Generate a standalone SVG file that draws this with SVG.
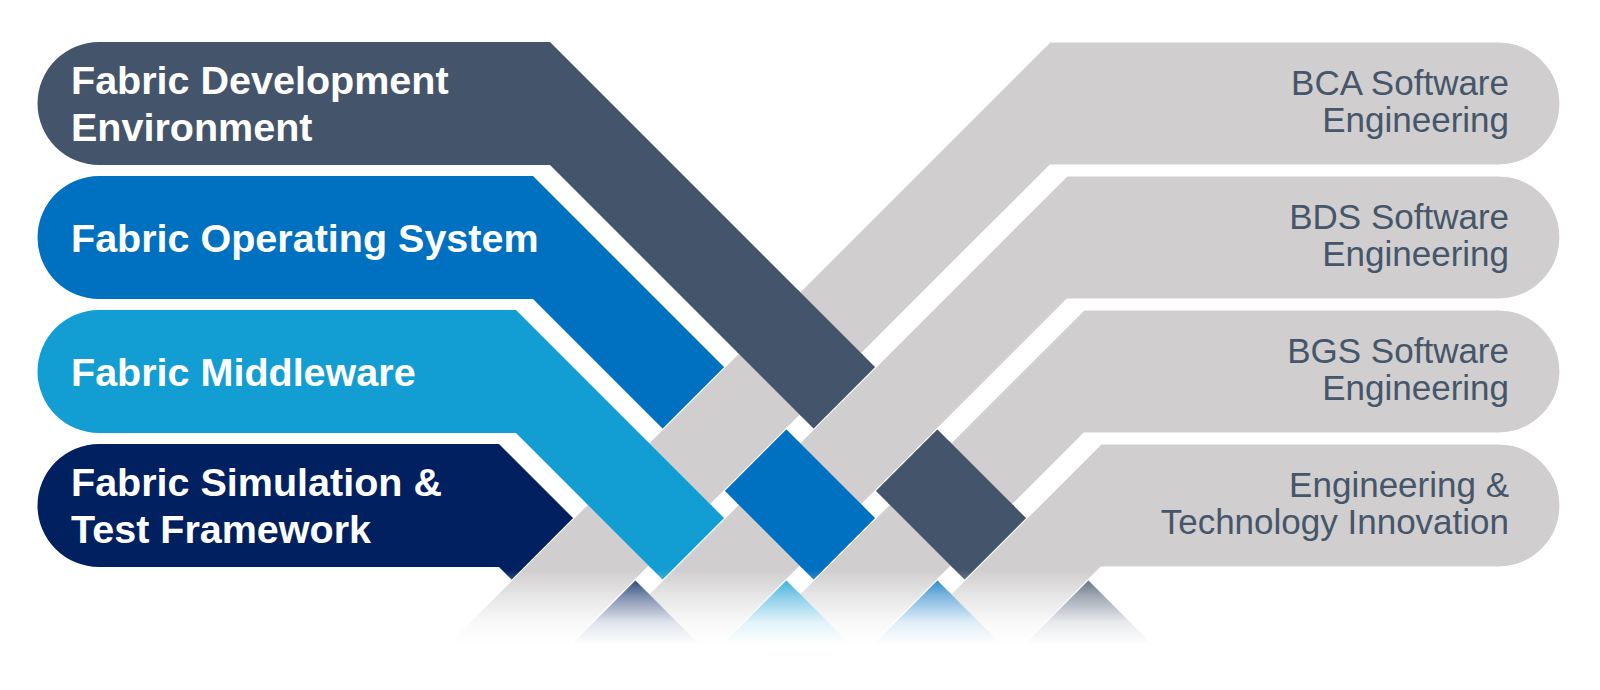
<svg xmlns="http://www.w3.org/2000/svg" width="1600" height="690" viewBox="0 0 1600 690">
<defs>
<style>
.lt{font-family:"Liberation Sans",Arial,sans-serif;font-weight:700;font-size:39.5px;fill:#fff}
.rt{font-family:"Liberation Sans",Arial,sans-serif;font-size:35px;fill:#46566A;text-anchor:end}
.r{fill:#D0CECE;stroke:#fff;stroke-width:1.2;stroke-linejoin:miter}
.c1{fill:#44546A}.c2{fill:#0070C0}.c3{fill:#139ED3}.c4{fill:#002060}
</style>
<linearGradient id="fade" x1="0" y1="570" x2="0" y2="645" gradientUnits="userSpaceOnUse">
<stop offset="0" stop-color="#fff" stop-opacity="0"/>
<stop offset="0.35" stop-color="#fff" stop-opacity="0.5"/>
<stop offset="0.7" stop-color="#fff" stop-opacity="0.88"/>
<stop offset="1" stop-color="#fff" stop-opacity="1"/>
</linearGradient>
</defs>
<rect width="1600" height="690" fill="#fff"/>

<g id="fabric-development-environment">
<path class="c1" d="M99 42 L550 42 L1228 720 L1105 720 L550 165 L99 165 A61.5 61.5 0 0 1 99 42 Z"/>
<text class="lt" x="71" y="94">Fabric Development</text>
<text class="lt" x="71" y="141">Environment</text>
</g>
<g id="fabric-operating-system">
<path class="c2" d="M99 176 L533 176 L1077 720 L954 720 L533 299 L99 299 A61.5 61.5 0 0 1 99 176 Z"/>
<text class="lt" x="71" y="252">Fabric Operating System</text>
</g>
<g id="fabric-middleware">
<path class="c3" d="M99 310 L516 310 L926 720 L803 720 L516 433 L99 433 A61.5 61.5 0 0 1 99 310 Z"/>
<text class="lt" x="71" y="386">Fabric Middleware</text>
</g>
<g id="fabric-simulation-test">
<path class="c4" d="M99 444 L499 444 L775 720 L652 720 L499 567 L99 567 A61.5 61.5 0 0 1 99 444 Z"/>
<text class="lt" x="71" y="496">Fabric Simulation &amp;</text>
<text class="lt" x="71" y="543">Test Framework</text>
</g>

<g id="bca-software-engineering">
<path class="r" d="M1050 42 L1498.5 42 A61.5 61.5 0 0 1 1498.5 165 L1050 165 L495 720 L372 720 Z"/>
<text class="rt" x="1509" y="95">BCA Software</text>
<text class="rt" x="1509" y="132">Engineering</text>
</g>
<g id="bds-software-engineering">
<path class="r" d="M1067 176 L1498.5 176 A61.5 61.5 0 0 1 1498.5 299 L1067 299 L646 720 L523 720 Z"/>
<text class="rt" x="1509" y="229">BDS Software</text>
<text class="rt" x="1509" y="266">Engineering</text>
</g>
<g id="bgs-software-engineering">
<path class="r" d="M1084 310 L1498.5 310 A61.5 61.5 0 0 1 1498.5 433 L1084 433 L797 720 L674 720 Z"/>
<text class="rt" x="1509" y="363">BGS Software</text>
<text class="rt" x="1509" y="400">Engineering</text>
</g>
<g id="engineering-technology-innovation">
<path class="r" d="M1101 444 L1498.5 444 A61.5 61.5 0 0 1 1498.5 567 L1101 567 L948 720 L825 720 Z"/>
<text class="rt" x="1509" y="497">Engineering &amp;</text>
<text class="rt" x="1509" y="534">Technology Innovation</text>
</g>

<g id="weave-crossings">
<polygon class="c1" points="798.5,290.5 863,355 801.5,416.5 737,352"/>
<polygon class="c1" points="949.5,441.5 1014,506 952.5,567.5 888,503"/>
<polygon class="c2" points="798.5,441.5 863,506 801.5,567.5 737,503"/>
<polygon class="c2" points="949.5,592.5 1014,657 952.5,718.5 888,654"/>
<polygon class="c3" points="647.5,441.5 712,506 650.5,567.5 586,503"/>
<polygon class="c3" points="798.5,592.5 863,657 801.5,718.5 737,654"/>
<polygon class="c4" points="647.5,592.5 712,657 650.5,718.5 586,654"/>
</g>

<rect x="0" y="570" width="1600" height="120" fill="url(#fade)"/>
</svg>
